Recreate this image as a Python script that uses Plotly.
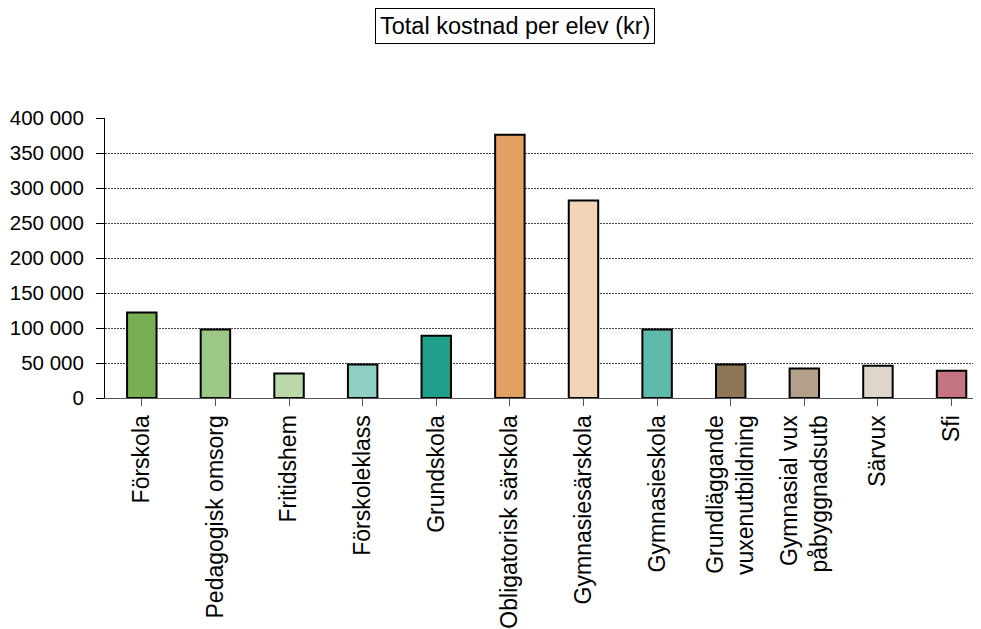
import plotly.graph_objects as go

categories = ["Förskola", "Pedagogisk omsorg", "Fritidshem", "Förskoleklass", "Grundskola",
              "Obligatorisk särskola", "Gymnasiesärskola", "Gymnasieskola",
              "Grundläggande<br>vuxenutbildning", "Gymnasial vux<br>påbyggnadsutb", "Särvux", "Sfi"]
values = [122000, 98000, 35000, 48000, 89000, 376000, 282000, 98000, 48000, 42000, 46000, 39000]
colors = ["#77AF52", "#9DC785", "#BCDAA9", "#8FCFC3", "#1F9E89", "#E2A062",
          "#F2D5B8", "#5FBAAB", "#8E7656", "#B3A08A", "#DED6CB", "#C57482"]
title_text = "Total kostnad per elev (kr)"

fig = go.Figure(go.Bar(
    x=list(range(len(categories))), y=values,
    marker=dict(color=colors, line=dict(color="black", width=2)),
    width=0.4,
))

font = "Liberation Sans, Arial, sans-serif"
# page has an 8px body margin; compensate
W, H = 973, 621
L, T, B = 97, 110, 231
fig.update_layout(
    width=W, height=H,
    margin=dict(l=L, r=0, t=T, b=B),
    plot_bgcolor="white", paper_bgcolor="white",
    showlegend=False,
    separators=", ",
    font=dict(family=font, color="black"),
    annotations=[dict(
        text=title_text, xref="paper", yref="paper",
        x=(507 - L) / (W - L), y=1 + (T - 17.5) / (H - T - B),
        xanchor="center", yanchor="middle", showarrow=False,
        font=dict(size=23.5, family=font, color="black"),
        bordercolor="black", borderwidth=1, borderpad=4, bgcolor="white",
    )],
)
fig.update_xaxes(
    tickmode="array", tickvals=list(range(len(categories))), ticktext=categories,
    range=[-0.5, 11.4], tickangle=-90, automargin=False,
    tickfont=dict(size=23, family=font, color="black"),
    showline=True, linecolor="#555555", linewidth=1,
    ticks="outside", ticklen=7, tickcolor="#555555", tickson="boundaries",
    showgrid=False, zeroline=False,
)
fig.update_yaxes(
    range=[0, 400000], dtick=50000, tickformat=",d", automargin=False,
    tickfont=dict(size=20.5, family=font, color="black"),
    showline=True, linecolor="black", linewidth=1,
    ticks="outside", ticklen=8, tickcolor="black", ticklabelstandoff=8,
    showgrid=True, gridcolor="#444444", gridwidth=1, griddash="2px,1px",
    zeroline=False,
)
fig.write_html("out.html")
